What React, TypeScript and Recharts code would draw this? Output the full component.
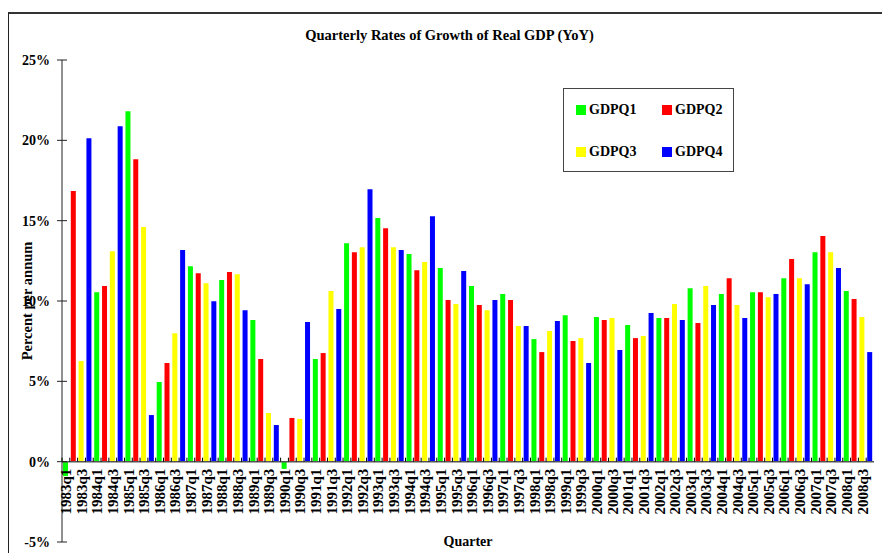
import React from 'react';
import { BarChart, Bar, XAxis, YAxis, ReferenceLine, Legend, Label } from 'recharts';

const years = [1983, 1984, 1985, 1986, 1987, 1988, 1989, 1990, 1991, 1992, 1993, 1994, 1995, 1996, 1997, 1998, 1999, 2000, 2001, 2002, 2003, 2004, 2005, 2006, 2007, 2008];
const gdpQ1 = [-0.9, 10.55, 21.81, 4.96, 12.17, 11.3, 8.81, -0.45, 6.39, 13.6, 15.16, 12.92, 12.05, 10.93, 10.43, 7.63, 9.12, 9.0, 8.5, 8.94, 10.8, 10.43, 10.55, 11.42, 13.04, 10.62];
const gdpQ2 = [16.85, 10.93, 18.82, 6.14, 11.73, 11.8, 6.39, 2.72, 6.76, 13.04, 14.53, 11.92, 10.06, 9.75, 10.06, 6.82, 7.51, 8.81, 7.69, 8.94, 8.63, 11.42, 10.55, 12.61, 14.04, 10.12];
const gdpQ3 = [6.26, 13.1, 14.6, 8.0, 11.11, 11.67, 3.03, 2.66, 10.62, 13.35, 13.35, 12.42, 9.81, 9.43, 8.44, 8.13, 7.69, 8.94, 7.82, 9.81, 10.93, 9.75, 10.24, 11.42, 13.04, 9.0];
const gdpQ4 = [20.13, 20.88, 2.9, 13.17, 9.99, 9.43, 2.28, 8.69, 9.5, 16.96, 13.17, 15.28, 11.86, 10.06, 8.44, 8.75, 6.14, 6.95, 9.25, 8.81, 9.75, 8.94, 10.43, 11.05, 12.05, 6.82];
const yTicks = [-5, 0, 5, 10, 15, 20, 25];

const seriesKeys = ['GDPQ1', 'GDPQ2', 'GDPQ3', 'GDPQ4'];
const seriesColors = ['#00ff00', '#ff0000', '#ffff00', '#0000ff'];
const seriesValues = [gdpQ1, gdpQ2, gdpQ3, gdpQ4];

const data: any[] = [];
years.forEach((y, yi) => {
  for (let q = 0; q < 4; q++) {
    const row: any = { q: `${y}q${q + 1}` };
    row[seriesKeys[q]] = seriesValues[q][yi];
    data.push(row);
  }
});

const W = 882;
const H = 553;
const LEFT = 62;
const RIGHT = 8;
const TOP = 60;
const BOTTOM = 11;
const PLOT_W = W - LEFT - RIGHT;
const PLOT_H = H - TOP - BOTTOM;
const Y_MIN = -5;
const Y_MAX = 25;
const ZERO_Y = TOP + (PLOT_H * Y_MAX) / (Y_MAX - Y_MIN);
const BAND = PLOT_W / data.length;
const FONT = '"Liberation Serif", "Times New Roman", serif';

const XTick = (props: any) => {
  const { x, payload } = props;
  const v: string = String(payload.value);
  const show = v.endsWith('1') || v.endsWith('3');
  const ly = ZERO_Y + 7;
  return (
    <g>
      <line x1={x - BAND / 2} x2={x - BAND / 2} y1={ZERO_Y} y2={ZERO_Y - 4} stroke="#000" strokeWidth={1} />
      {show && (
        <text
          x={x}
          y={ly}
          dy="0.35em"
          transform={`rotate(-90 ${x} ${ly})`}
          textAnchor="end"
          fontFamily={FONT}
          fontWeight="bold"
          fontSize={15}
          fill="#000"
        >
          {v}
        </text>
      )}
    </g>
  );
};

const YTick = (props: any) => {
  const { y, payload } = props;
  return (
    <g>
      <line x1={LEFT - 5} x2={LEFT + 5} y1={y} y2={y} stroke="#222" strokeWidth={1} />
      <text x={LEFT - 12} y={y} dy="0.35em" textAnchor="end" fontFamily={FONT} fontWeight="bold" fontSize={14} fill="#000">
        {`${payload.value}%`}
      </text>
    </g>
  );
};

const LegendBox = (props: any) => {
  const { payload } = props;
  return (
    <div
      style={{
        position: 'relative',
        width: 171,
        height: 84,
        border: '1.5px solid #444',
        boxSizing: 'border-box',
        background: '#fff',
        fontFamily: FONT,
        fontWeight: 'bold',
        fontSize: 14,
      }}
    >
      {(payload || []).map((p: any, i: number) => {
        const col = i % 2;
        const row = Math.floor(i / 2);
        return (
          <div
            key={p.value}
            style={{
              position: 'absolute',
              left: 12 + col * 86,
              top: 15 + row * 42,
              display: 'flex',
              alignItems: 'center',
              height: 12,
              whiteSpace: 'nowrap',
              color: '#000',
            }}
          >
            <span style={{ display: 'inline-block', width: 10, height: 10, background: p.color, marginRight: 3 }} />
            <span>{p.value}</span>
          </div>
        );
      })}
    </div>
  );
};

export default function App() {
  return (
    <div style={{ position: 'absolute', left: 0, top: 0, width: W, height: H, background: '#fff', overflow: 'hidden' }}>
      <div
        style={{
          position: 'absolute',
          left: 8,
          top: 12,
          width: W + 20,
          height: H + 20,
          borderLeft: '1.5px solid #222',
          borderTop: '2px solid #333',
          boxSizing: 'border-box',
          pointerEvents: 'none',
        }}
      />
      <div
        style={{
          position: 'absolute',
          left: 0,
          width: 899,
          top: 27,
          textAlign: 'center',
          fontFamily: FONT,
          fontWeight: 'bold',
          fontSize: 14.5,
          lineHeight: '16px',
          color: '#000',
        }}
      >
        Quarterly Rates of Growth of Real GDP (YoY)
      </div>
      <div style={{ position: 'absolute', left: 0, top: 0 }}>
        <BarChart
          width={W}
          height={H}
          data={data}
          margin={{ top: TOP, right: RIGHT, bottom: 0, left: 0 }}
          barSize={5}
          stackOffset="sign"
        >
          <XAxis
            dataKey="q"
            interval={0}
            axisLine={false}
            tickLine={false}
            tickSize={0}
            height={BOTTOM}
            tick={<XTick />}
          >
            <Label
              content={(p: any) => {
                const vb = p.viewBox || {};
                const cx = (vb.x || 0) + (vb.width || 0) / 2;
                return (
                  <text x={cx} y={(vb.y || 0) + 4} textAnchor="middle" fontFamily={FONT} fontWeight="bold" fontSize={14} fill="#000">
                    Quarter
                  </text>
                );
              }}
            />
          </XAxis>
          <YAxis
            domain={[Y_MIN, Y_MAX]}
            ticks={yTicks}
            interval={0}
            width={LEFT}
            axisLine={{ stroke: '#222', strokeWidth: 1 }}
            tickLine={false}
            tick={<YTick />}
            allowDataOverflow
          >
            <Label
              content={(p: any) => {
                const vb = p.viewBox || {};
                const cy = (vb.y || 0) + (vb.height || 0) / 2;
                const cx = 27;
                return (
                  <text
                    x={cx}
                    y={cy}
                    dy="0.35em"
                    transform={`rotate(-90 ${cx} ${cy})`}
                    textAnchor="middle"
                    fontFamily={FONT}
                    fontWeight="bold"
                    fontSize={14.5}
                    fill="#000"
                  >
                    Percent per annum
                  </text>
                );
              }}
            />
          </YAxis>
          <Legend
            layout="vertical"
            align="center"
            verticalAlign="middle"
            content={<LegendBox />}
            wrapperStyle={{ position: 'absolute', left: 563, top: 88, width: 171, height: 84 }}
          />
          {seriesKeys.map((k, i) => (
            <Bar key={k} dataKey={k} stackId="s" fill={seriesColors[i]} isAnimationActive={false} />
          ))}
          <ReferenceLine y={0} stroke="#555" strokeWidth={1.5} />
        </BarChart>
      </div>
    </div>
  );
}
